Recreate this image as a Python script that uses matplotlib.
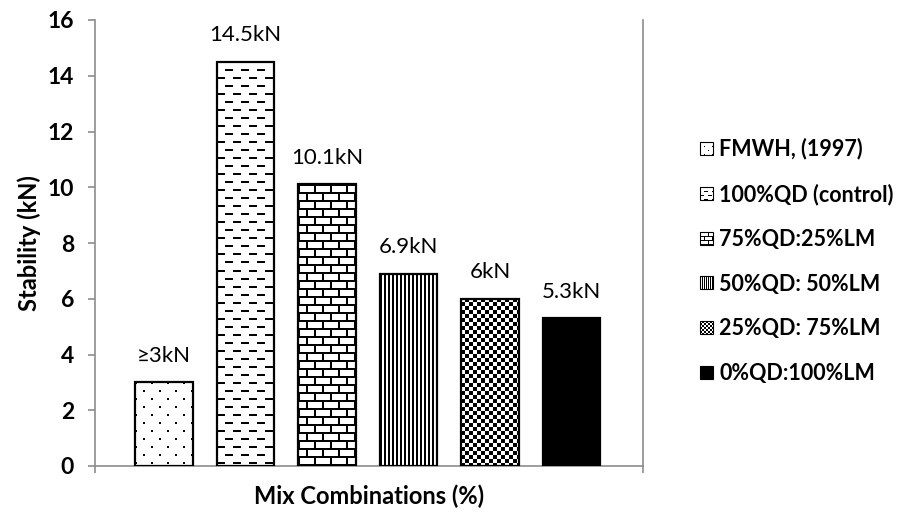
import numpy as np
import matplotlib
matplotlib.use("Agg")
import matplotlib.pyplot as plt
from matplotlib.legend_handler import HandlerBase
from matplotlib.image import BboxImage
from matplotlib.transforms import Bbox, TransformedBbox
from matplotlib.patches import Rectangle

# ---- data ----
series = ["FMWH, (1997)", "100%QD (control)", "75%QD:25%LM",
          "50%QD: 50%LM", "25%QD: 75%LM", "0%QD:100%LM"]
stability = [3.0, 14.5, 10.1, 6.9, 6.0, 5.3]
value_labels = ["\u22653kN", "14.5kN", "10.1kN", "6.9kN", "6kN", "5.3kN"]
y_ticks = [0, 2, 4, 6, 8, 10, 12, 14, 16]
x_label = "Mix Combinations (%)"
y_label = "Stability (kN)"

FONT = ["Lato", "DejaVu Sans"]
plt.rcParams["font.family"] = FONT
GREY = "#8c8c8c"


# ---- 8x8 fill patterns (1 = black) ----
def pat_dots():
    t = np.zeros((8, 8)); t[0, 0] = 1; t[4, 4] = 1
    return t

def pat_dashes():
    t = np.zeros((8, 8)); t[0, 0:4] = 1; t[4, 4:8] = 1
    return t

def pat_brick():
    t = np.zeros((8, 8)); t[0, :] = 1; t[1:4, 0] = 1; t[4, :] = 1; t[5:8, 4] = 1
    return t

def pat_vertical():
    t = np.zeros((8, 8)); t[:, 0::2] = 1
    return t

def pat_checker():
    t = np.zeros((8, 8))
    for r in range(8):
        for c in range(8):
            t[r, c] = ((r // 2) + (c // 2)) % 2
    return t

def pat_solid():
    return np.ones((8, 8))

patterns = [pat_dots(), pat_dashes(), pat_brick(), pat_vertical(), pat_checker(), pat_solid()]


def texture(tile, h, w, scale):
    t = np.kron(tile, np.ones((scale, scale)))
    reps = (h // t.shape[0] + 2, w // t.shape[1] + 2)
    big = np.tile(t, reps)[:h, :w]
    return np.dstack([1.0 - big] * 3)


class PatternHandler(HandlerBase):
    def __init__(self, tile, dpi):
        super().__init__()
        self.tile = tile
        self.dpi = dpi

    def create_artists(self, legend, orig_handle, xdescent, ydescent,
                       width, height, fontsize, trans):
        s = min(width, height)
        x0 = -xdescent + (width - s) / 2.0
        y0 = -ydescent + (height - s) / 2.0
        n = max(2, int(round(s * self.dpi / 72.0)))
        bb = TransformedBbox(Bbox.from_bounds(x0, y0, s, s), trans)
        img = BboxImage(bb, interpolation="nearest", origin="upper")
        img.set_data(texture(self.tile, n, n, 1))
        frame = Rectangle((x0, y0), s, s, facecolor="none", edgecolor="black",
                          linewidth=0.8, transform=trans)
        return [img, frame]


# ---- figure / axes ----
W, H, DPI = 903, 512, 100
fig = plt.figure(figsize=(W / DPI, H / DPI), dpi=DPI)
ax_l, ax_r, ax_t, ax_b = 95, 643, 20, 466
ax = fig.add_axes([ax_l / W, (H - ax_b) / H, (ax_r - ax_l) / W, (ax_b - ax_t) / H])

pos = np.arange(len(series))
xmin, xmax = -0.847, 5.877
bar_w = 0.706
ax.set_xlim(xmin, xmax)
ax.set_ylim(0, 16)

px_x = (ax_r - ax_l) / (xmax - xmin)
px_y = (ax_b - ax_t) / 16.0

# white base, texture, then outline
ax.bar(pos, stability, width=bar_w, color="white", edgecolor="none", zorder=2)
for x, v, tile in zip(pos, stability, patterns):
    w_px = int(round(bar_w * px_x))
    h_px = int(round(v * px_y))
    ax.imshow(texture(tile, h_px, w_px, 2), extent=(x - bar_w / 2, x + bar_w / 2, 0, v),
              interpolation="nearest", origin="upper", aspect="auto", zorder=2.5)
ax.bar(pos, stability, width=bar_w, facecolor="none", edgecolor="black",
       linewidth=1.6, zorder=3)
ax.set_xlim(xmin, xmax)
ax.set_ylim(0, 16)

for x, v, lab in zip(pos, stability, value_labels):
    ax.annotate(lab, (x, v), xytext=(0, 19), textcoords="offset points",
                ha="center", va="center", fontsize=16, color="black")

# axes styling
ax.spines["top"].set_visible(False)
for side in ("left", "bottom", "right"):
    ax.spines[side].set_color(GREY)
    ax.spines[side].set_linewidth(1.2)

ax.set_yticks(y_ticks)
ax.set_yticklabels([str(t) for t in y_ticks], fontsize=16.5, fontweight="bold")
ax.tick_params(axis="y", direction="out", length=5, width=1.2, color=GREY, pad=10)
ax.set_xticks([xmin, xmax])
ax.set_xticklabels([])
ax.tick_params(axis="x", direction="out", length=5, width=1.2, color=GREY)

ax.set_ylabel(y_label, fontsize=17, fontweight="bold", labelpad=5)
ax.set_xlabel(x_label, fontsize=17, fontweight="bold", labelpad=5)

# legend
handles = [Rectangle((0, 0), 1, 1) for _ in series]
hmap = {h: PatternHandler(t, DPI) for h, t in zip(handles, patterns)}
fig.legend(handles, series, handler_map=hmap, loc="center left",
           bbox_to_anchor=(700 / W, 1 - 261 / H), frameon=False,
           prop={"family": FONT, "weight": "bold", "size": 15.5},
           handlelength=0.6, handleheight=0.6, handletextpad=0.3,
           labelspacing=1.1, borderaxespad=0, borderpad=0)

fig.savefig("out.png", dpi=DPI)
